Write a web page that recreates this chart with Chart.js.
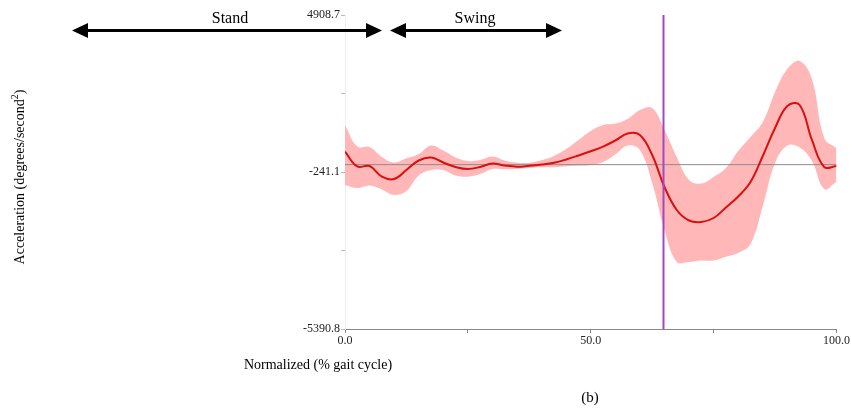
<!DOCTYPE html>
<html>
<head>
<meta charset="utf-8">
<script src="https://cdn.jsdelivr.net/npm/chart.js@4/dist/chart.umd.min.js"></script>
<style>
  html, body { margin: 0; padding: 0; background: #fff; }
  #wrap { position: relative; width: 851px; height: 411px; }
</style>
</head>
<body>
<div id="wrap"><canvas id="accelChart"></canvas></div>
<script>
// % gait cycle
const gaitPct = [0, 2.5, 5, 7.5, 10, 12.5, 15, 17.5, 20, 22.5, 25, 27.5, 30, 32.5, 35, 37.5, 40,
  42.5, 45, 47.5, 50, 52.5, 55, 57.5, 60, 62.5, 65, 67.5, 70, 72.5, 75, 77.5, 80, 82.5, 85,
  87.5, 90, 92.5, 95, 97.5, 100];

// degrees/second^2
const meanAccel = [425, -60, -44, -395, -471, -175, 136, 235, 70, -77, -143, -77, 38, -28, -67,
  -38, 5, 64, 169, 300, 438, 592, 792, 1022, 973, 317, -733, -1487, -1832, -1881, -1750,
  -1406, -1045, -569, 284, 1202, 1924, 1957, 809, -77, -44];
const upperAccel = [1301, 595, 579, 251, 71, 208, 349, 628, 464, 235, 120, 153, 268, 136, 64,
  64, 143, 284, 513, 809, 1104, 1301, 1350, 1498, 1793, 1858, 1137, 251, -503, -618, -405,
  -110, 448, 907, 1399, 2383, 3137, 3400, 2809, 874, 546];
const lowerAccel = [-667, -766, -684, -815, -996, -864, -356, -175, -175, -356, -395, -307, -143,
  -150, -143, -110, -87, -87, -54, -28, -12, 87, 333, 628, 481, -602, -2143, -3193, -3193,
  -3144, -3144, -3019, -2898, -2602, -1356, 54, 628, 563, 120, -798, -559];

const toeOffPct = 64.8;

const yTickValues = [-5390.8, -2816.0, -241.1, 2333.8, 4908.7];
const yTickLabels = ['-5390.8', '', '-241.1', '', '4908.7'];
const xTickValues = [0, 25, 50, 75, 100];
const xTickLabels = ['0.0', '', '50.0', '', '100.0'];

const SERIF = '"Liberation Serif", "DejaVu Serif", serif';

// arrows + titles drawn on top of the chart
const annotations = {
  id: 'annotations',
  afterDraw(chart) {
    const ctx = chart.ctx;
    ctx.save();
    ctx.fillStyle = '#000';
    ctx.strokeStyle = '#000';

    const arrow = (x1, x2, y) => {
      const hl = 16, hh = 7.5;
      ctx.lineWidth = 3;
      ctx.beginPath();
      ctx.moveTo(x1 + hl - 2, y);
      ctx.lineTo(x2 - hl + 2, y);
      ctx.stroke();
      ctx.beginPath();
      ctx.moveTo(x1, y); ctx.lineTo(x1 + hl, y - hh); ctx.lineTo(x1 + hl, y + hh); ctx.closePath();
      ctx.fill();
      ctx.beginPath();
      ctx.moveTo(x2, y); ctx.lineTo(x2 - hl, y - hh); ctx.lineTo(x2 - hl, y + hh); ctx.closePath();
      ctx.fill();
    };
    arrow(72, 382, 30.5);
    arrow(390, 562, 30.5);

    ctx.textAlign = 'center';
    ctx.textBaseline = 'middle';
    ctx.font = '16px ' + SERIF;
    ctx.fillText('Stand', 230, 19);
    ctx.fillText('Swing', 475, 19);

    ctx.font = '14px ' + SERIF;
    ctx.fillText('Normalized (% gait cycle)', 318, 365);
    ctx.font = '15px ' + SERIF;
    ctx.fillText('(b)', 590, 398);

    // y title with superscript 2
    ctx.save();
    ctx.translate(20, 177);
    ctx.rotate(-Math.PI / 2);
    ctx.font = '14px ' + SERIF;
    const main = 'Acceleration (degrees/second';
    const wMain = ctx.measureText(main).width;
    ctx.font = '10px ' + SERIF;
    const wSup = ctx.measureText('2').width;
    ctx.font = '14px ' + SERIF;
    const wEnd = ctx.measureText(')').width;
    const total = wMain + wSup + wEnd;
    ctx.textAlign = 'left';
    let x = -total / 2;
    ctx.fillText(main, x, 0);
    x += wMain;
    ctx.font = '10px ' + SERIF;
    ctx.fillText('2', x, -5);
    x += wSup;
    ctx.font = '14px ' + SERIF;
    ctx.fillText(')', x, 0);
    ctx.restore();

    ctx.restore();
  }
};

new Chart(document.getElementById('accelChart'), {
  type: 'line',
  data: {
    datasets: [
      { label: 'toe off', data: [{ x: toeOffPct, y: yTickValues[0] }, { x: toeOffPct, y: yTickValues[4] }],
        borderColor: '#a347c4', borderWidth: 2, pointRadius: 0, fill: false },
      { label: 'mean', data: gaitPct.map((p, i) => ({ x: p, y: meanAccel[i] })),
        borderColor: '#d91010', borderWidth: 2, pointRadius: 0, tension: 0.4, fill: false },
      { label: 'zero', data: [{ x: gaitPct[0], y: 0 }, { x: gaitPct[gaitPct.length - 1], y: 0 }],
        borderColor: '#8c8c8c', borderWidth: 1, pointRadius: 0, fill: false },
      { label: 'upper', data: gaitPct.map((p, i) => ({ x: p, y: upperAccel[i] })),
        borderWidth: 0, borderColor: 'rgba(0,0,0,0)', pointRadius: 0, tension: 0.4,
        fill: '+1', backgroundColor: 'rgba(255, 170, 170, 0.85)' },
      { label: 'lower', data: gaitPct.map((p, i) => ({ x: p, y: lowerAccel[i] })),
        borderWidth: 0, borderColor: 'rgba(0,0,0,0)', pointRadius: 0, tension: 0.4, fill: false },
    ],
  },
  options: {
    responsive: true,
    maintainAspectRatio: false,
    animation: false,
    events: [],
    layout: { padding: { left: 300, top: 15, right: 14, bottom: 0 } },
    plugins: { legend: { display: false }, tooltip: { enabled: false } },
    scales: {
      x: {
        type: 'linear', min: 0, max: 100,
        afterBuildTicks: (scale) => { scale.ticks = xTickValues.map((v) => ({ value: v })); },
        afterFit: (scale) => { scale.height = 82; },
        grid: { drawOnChartArea: false, tickLength: 4, color: '#888' },
        border: { color: '#888', width: 1 },
        ticks: { color: '#222', padding: 1, maxRotation: 0, autoSkip: false,
          font: { family: SERIF, size: 12 },
          callback: (v, i) => xTickLabels[i] },
      },
      y: {
        min: yTickValues[0], max: yTickValues[4],
        afterBuildTicks: (scale) => { scale.ticks = yTickValues.map((v) => ({ value: v })); },
        afterFit: (scale) => { scale.width = 45; },
        grid: { drawOnChartArea: false, tickLength: 4, color: '#bbb' },
        border: { color: '#eee', width: 1 },
        ticks: { color: '#222', padding: 1, autoSkip: false,
          font: { family: SERIF, size: 12 },
          callback: (v, i) => yTickLabels[i] },
      },
    },
  },
  plugins: [annotations],
});
</script>
</body>
</html>
